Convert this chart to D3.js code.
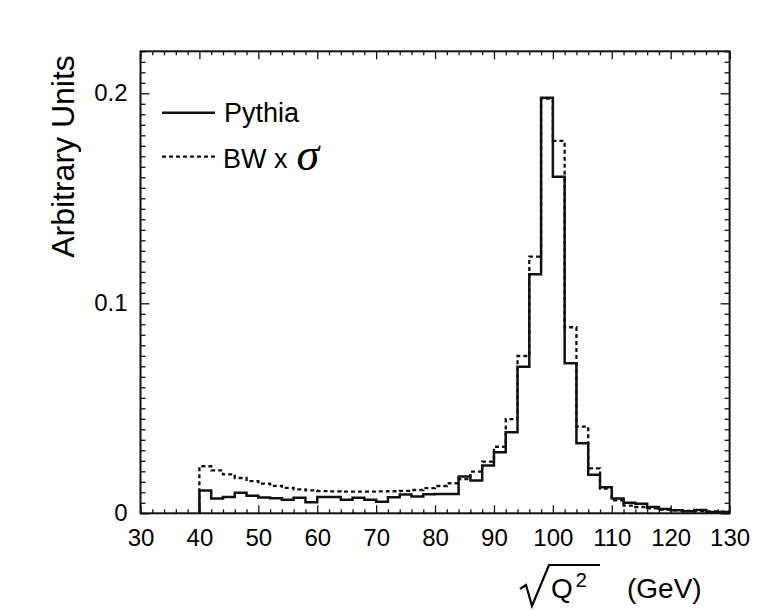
<!DOCTYPE html>
<html>
<head>
<meta charset="utf-8">
<script src="https://cdn.jsdelivr.net/npm/d3@7"></script>
<style>
  html, body { margin: 0; padding: 0; background: #fff; }
  svg { display: block; font-family: "Liberation Sans", Arial, sans-serif; }
</style>
</head>
<body>
<svg id="chart" width="771" height="611"></svg>
<script>
// bin lower edges (GeV), 2 GeV wide bins
const binLow = [40, 42, 44, 46, 48, 50, 52, 54, 56, 58, 60, 62, 64, 66, 68, 70, 72, 74, 76, 78,
                80, 82, 84, 86, 88, 90, 92, 94, 96, 98, 100, 102, 104, 106, 108, 110, 112, 114, 116, 118,
                120, 122, 124, 126, 128];
const binHigh = 130;

const pythia = [0.0109, 0.0070, 0.0078, 0.0098, 0.0083, 0.0075, 0.0072, 0.0065, 0.0074, 0.0053,
                0.0078, 0.0078, 0.0065, 0.0074, 0.0064, 0.0055, 0.0076, 0.0090, 0.0080, 0.0091,
                0.0092, 0.0092, 0.0175, 0.0156, 0.0228, 0.0291, 0.0386, 0.0698, 0.1138, 0.1979,
                0.1603, 0.0714, 0.0333, 0.0183, 0.0124, 0.0070, 0.0050, 0.0046, 0.0030, 0.0021,
                0.0014, 0.0010, 0.0016, 0.0006, 0.0006];

const bwSigma = [0.0224, 0.0204, 0.0185, 0.0168, 0.0153, 0.0141, 0.0131, 0.0121, 0.0114, 0.0109,
                 0.0106, 0.0104, 0.0103, 0.0103, 0.0103, 0.0104, 0.0105, 0.0107, 0.0111, 0.0120,
                 0.0130, 0.0143, 0.0163, 0.0198, 0.0246, 0.0317, 0.0448, 0.0749, 0.1222, 0.1975,
                 0.1773, 0.0886, 0.0413, 0.0214, 0.0118, 0.0062, 0.0037, 0.0030, 0.0023, 0.0018,
                 0.0014, 0.0012, 0.0010, 0.0009, 0.0008];

const xMajor = [30, 40, 50, 60, 70, 80, 90, 100, 110, 120, 130];
const yMajor = [0, 0.1, 0.2];
const yLabels = ["0", "0.1", "0.2"];

const svg = d3.select('#chart');
const plotL = 140.5, plotR = 729.6, plotT = 51.3, plotB = 513.3;

const x = d3.scaleLinear().domain([30, 130]).range([plotL, plotR]);
const y = d3.scaleLinear().domain([0, 0.22]).range([plotB, plotT]);

const ink = '#111';

// ticks: major + minor on all four sides, pointing inwards
const xMinor = x.ticks(50).filter(t => !xMajor.includes(t));
const yMinor = y.ticks(44).filter(t => !yMajor.some(m => Math.abs(m - t) < 1e-9));

function styleAxis(sel) {
    sel.select('.domain').remove();
    sel.selectAll('line').attr('stroke', ink).attr('stroke-width', 1.3);
    sel.selectAll('text').attr('fill', '#000').attr('font-size', 24).attr('font-family', null);
}

svg.append('g').attr('transform', `translate(0,${plotB})`)
    .call(d3.axisBottom(x).tickValues(xMajor).tickSize(-8).tickPadding(16).tickFormat(d3.format('d')))
    .call(styleAxis);
svg.append('g').attr('transform', `translate(0,${plotB})`)
    .call(d3.axisBottom(x).tickValues(xMinor).tickSize(-4).tickFormat(''))
    .call(styleAxis);
svg.append('g').attr('transform', `translate(0,${plotT})`)
    .call(d3.axisTop(x).tickValues(xMajor).tickSize(-8).tickFormat(''))
    .call(styleAxis);
svg.append('g').attr('transform', `translate(0,${plotT})`)
    .call(d3.axisTop(x).tickValues(xMinor).tickSize(-4).tickFormat(''))
    .call(styleAxis);

svg.append('g').attr('transform', `translate(${plotL},0)`)
    .call(d3.axisLeft(y).tickValues(yMajor).tickSize(-9).tickPadding(13).tickFormat((d, i) => yLabels[i]))
    .call(styleAxis);
svg.append('g').attr('transform', `translate(${plotL},0)`)
    .call(d3.axisLeft(y).tickValues(yMinor).tickSize(-5).tickFormat(''))
    .call(styleAxis);
svg.append('g').attr('transform', `translate(${plotR},0)`)
    .call(d3.axisRight(y).tickValues(yMajor).tickSize(-9).tickFormat(''))
    .call(styleAxis);
svg.append('g').attr('transform', `translate(${plotR},0)`)
    .call(d3.axisRight(y).tickValues(yMinor).tickSize(-5).tickFormat(''))
    .call(styleAxis);

// histograms as step lines
function stepPoints(vals) {
    const pts = [[binLow[0], 0]];
    vals.forEach((v, i) => pts.push([binLow[i], v]));
    pts.push([binHigh, vals[vals.length - 1]]);
    return pts;
}
const line = d3.line().x(d => x(d[0])).y(d => y(d[1])).curve(d3.curveStepAfter);

svg.append('path').datum(stepPoints(bwSigma))
    .attr('d', line).attr('fill', 'none').attr('stroke', ink)
    .attr('stroke-width', 2.3).attr('stroke-dasharray', '4,3');

svg.append('path').datum(stepPoints(pythia))
    .attr('d', line).attr('fill', 'none').attr('stroke', ink)
    .attr('stroke-width', 2.5);

// frame
svg.append('rect')
    .attr('x', plotL).attr('y', plotT)
    .attr('width', plotR - plotL).attr('height', plotB - plotT)
    .attr('fill', 'none').attr('stroke', ink).attr('stroke-width', 2);

// legend
svg.append('line').attr('x1', 162).attr('x2', 215).attr('y1', 112.7).attr('y2', 112.7)
    .attr('stroke', ink).attr('stroke-width', 2.5);
svg.append('text').attr('x', 224).attr('y', 122).attr('font-size', 27).text('Pythia');
svg.append('line').attr('x1', 162).attr('x2', 215).attr('y1', 156.7).attr('y2', 156.7)
    .attr('stroke', ink).attr('stroke-width', 2.3).attr('stroke-dasharray', '4,3');
const bw = svg.append('text').attr('x', 223).attr('y', 168).attr('font-size', 27);
bw.append('tspan').text('BW x');
bw.append('tspan').attr('font-family', '"Liberation Serif", "DejaVu Serif", serif')
    .attr('font-style', 'italic').attr('font-size', 46).attr('dx', 9).attr('dy', 2).text('σ');

// y axis title
svg.append('text')
    .attr('transform', 'translate(74,156.5) rotate(-90)')
    .attr('text-anchor', 'middle').attr('font-size', 32)
    .text('Arbitrary Units');

// x axis title: radical sign drawn as path, then Q, superscript 2, (GeV)
svg.append('path')
    .attr('d', 'M520,589 L526,585 L532,606 L549,565 L600,565')
    .attr('fill', 'none').attr('stroke', '#000').attr('stroke-width', 2.2)
    .attr('stroke-linejoin', 'miter');
const xt = svg.append('text').attr('x', 551).attr('y', 598).attr('font-size', 28);
xt.append('tspan').text('Q');
xt.append('tspan').attr('font-size', 20).attr('dx', 3).attr('dy', -11).text('2');
svg.append('text').attr('x', 627).attr('y', 598).attr('font-size', 28).text('(GeV)');
</script>
</body>
</html>
